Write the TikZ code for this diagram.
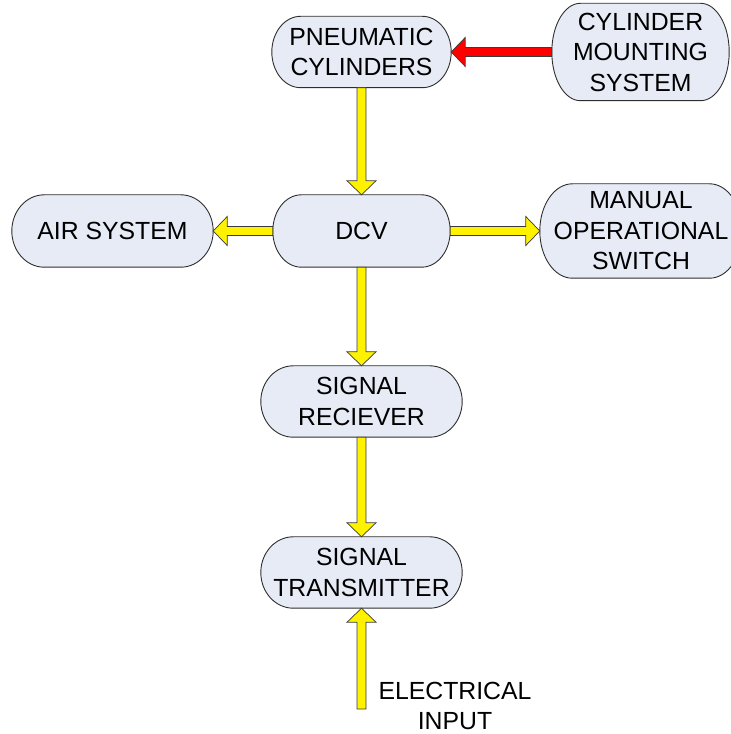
\documentclass[tikz,border=0pt]{standalone}
\usepackage{fontspec}
\setmainfont{Liberation Sans}
\usetikzlibrary{calc,backgrounds}
\definecolor{boxfill}{HTML}{E6EBF5}
\definecolor{boxline}{HTML}{2E2E2E}
\definecolor{arrline}{HTML}{3A3A3A}
\tikzset{
  term/.style={rectangle, inner sep=0pt, align=center, font=\fontsize{24.8}{30.5}\selectfont},
  termline/.style={draw=boxline, fill=boxfill, line width=0.9pt},
  yarrow/.style={draw=arrline, fill=yellow, line width=0.7pt, line join=miter},
  rarrow/.style={draw=arrline, fill=red, line width=0.7pt, line join=miter},
}
\newcommand\termshape[1]{%
  \draw[termline] let \p1=(#1.north west), \p2=(#1.south east),
      \n1={0.161*(\x2-\x1)}, \n2={(\y1-\y2)/2} in
    (\x1+\n1,\y1) -- (\x2-\n1,\y1)
    arc[start angle=90, end angle=-90, x radius=\n1, y radius=\n2]
    -- (\x1+\n1,\y2)
    arc[start angle=270, end angle=90, x radius=\n1, y radius=\n2] -- cycle;}
\newcommand\blockarrow[3]{%
  \path let \p1=(#2), \p2=(#3), \n1={atan2(\y2-\y1,\x2-\x1)},
      \n2={veclen(\x2-\x1,\y2-\y1)} in
    \pgfextra{\xdef\baAng{\n1}\xdef\baLen{\n2}\xdef\baX{\x1}\xdef\baY{\y1}};
  \begin{scope}[shift={(\baX,\baY)}, rotate=\baAng]
    \path[#1] (0,4.5) -- (\baLen-14,4.5) -- (\baLen-14,14.5) -- (\baLen,0)
      -- (\baLen-14,-14.5) -- (\baLen-14,-4.5) -- (0,-4.5) -- cycle;
  \end{scope}}
\begin{document}
\begin{tikzpicture}[x=1pt,y=1pt]
\useasboundingbox (0,0) rectangle (731,734);
\node[term, minimum width=179pt, minimum height=71pt] (pneu) at (361.5,682) {PNEUMATIC\\CYLINDERS};
\node[term, minimum width=177pt, minimum height=97pt] (cyl) at (640.5,682) {CYLINDER\\MOUNTING\\SYSTEM};
\node[term, minimum width=177pt, minimum height=72pt] (dcv) at (361.5,503) {DCV};
\node[term, minimum width=201pt, minimum height=72pt] (air) at (112.5,503) {AIR SYSTEM};
\node[term, minimum width=202pt, minimum height=94pt] (man) at (641,503) {MANUAL\\OPERATIONAL\\SWITCH};
\node[term, minimum width=201pt, minimum height=71pt] (rec) at (361.5,332.5) {SIGNAL\\RECIEVER};
\node[term, minimum width=201pt, minimum height=71pt] (tra) at (361.5,161.5) {SIGNAL\\TRANSMITTER};
\node[term] (elec) at (455,28) {ELECTRICAL\\INPUT};
\coordinate (inp) at (361.5,25);
\begin{scope}[on background layer]
  \termshape{pneu}
  \termshape{cyl}
  \termshape{dcv}
  \termshape{air}
  \termshape{man}
  \termshape{rec}
  \termshape{tra}
\end{scope}
\blockarrow{rarrow}{cyl.west}{pneu.east}
\blockarrow{yarrow}{pneu.south}{dcv.north}
\blockarrow{yarrow}{dcv.west}{air.east}
\blockarrow{yarrow}{dcv.east}{man.west}
\blockarrow{yarrow}{dcv.south}{rec.north}
\blockarrow{yarrow}{rec.south}{tra.north}
\blockarrow{yarrow}{inp}{tra.south}
\end{tikzpicture}
\end{document}
